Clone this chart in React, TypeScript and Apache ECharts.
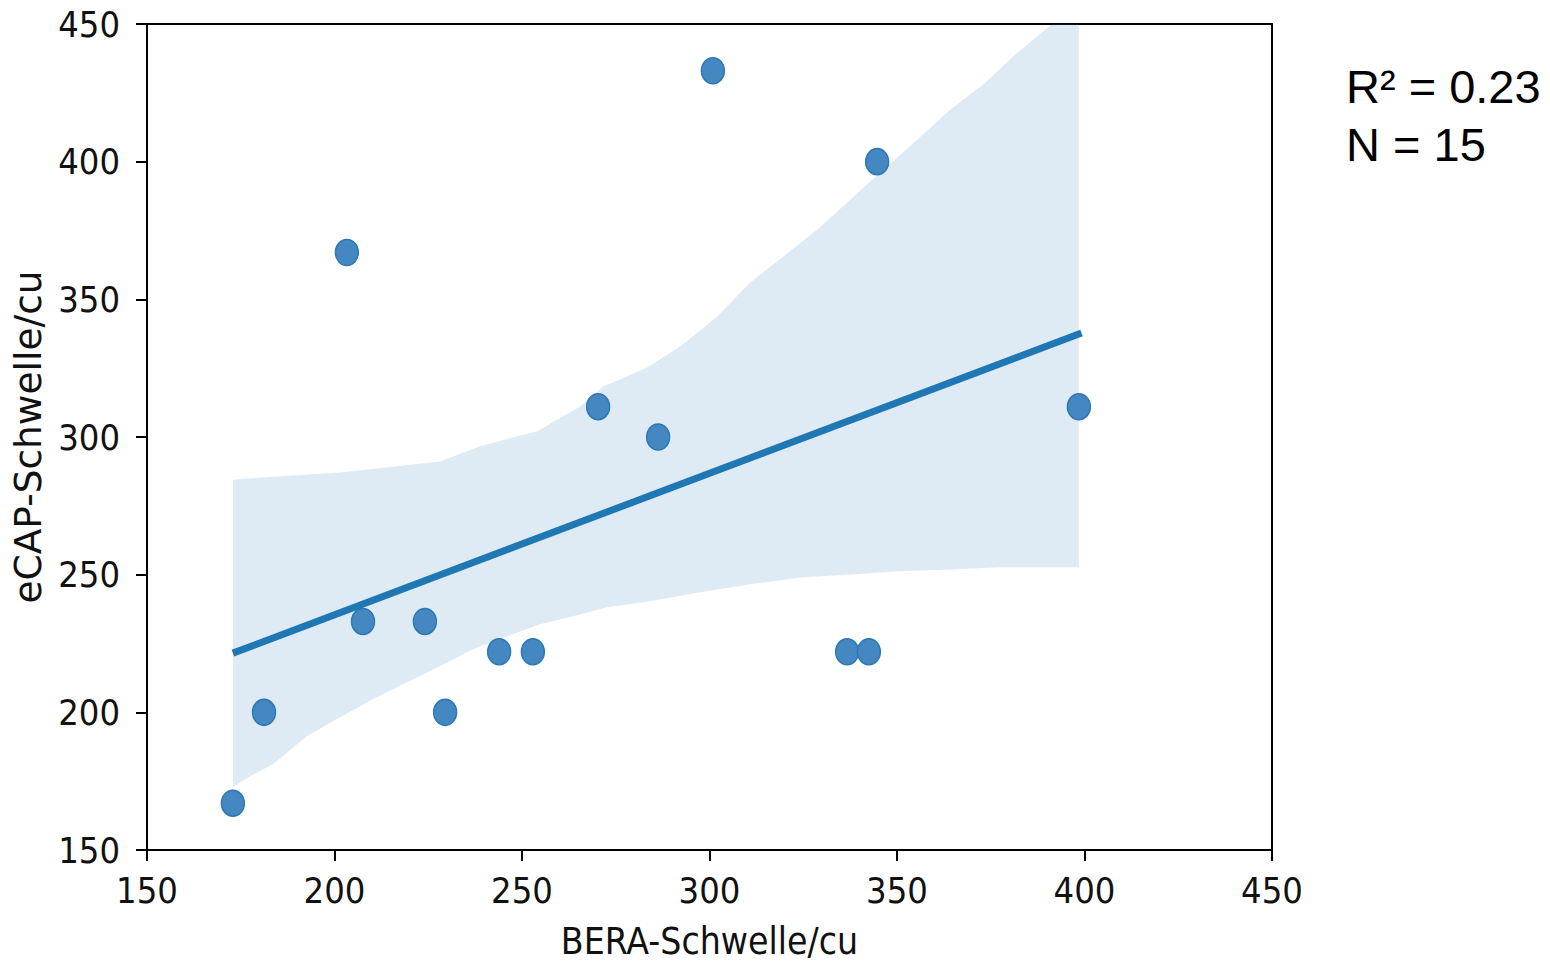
import React, { useEffect, useRef } from "react";
import * as echarts from "echarts";

// Scatter data (BERA threshold vs eCAP threshold)
const beraValues = [172.9, 181.2, 203.3, 207.6, 224.1, 229.5, 243.9, 252.9, 270.3, 286.3, 300.9, 336.7, 342.5, 344.7, 398.5];
const ecapValues = [167, 200, 367, 233, 233, 200, 222, 222, 311, 300, 433, 222, 222, 400, 311];

// Regression line end points
const fitX = [172.9, 399.2];
const fitY = [221.5, 337.8];

// Confidence band, upper edge
const ciUpperX = [172.9, 201.5, 228.1, 238.8, 247.6, 254.0, 259.3, 265.5, 271.6, 276.1, 283.3, 292.1, 302.0, 310.8, 319.6, 328.7, 337.5, 346.3, 355.3, 364.1, 372.9, 382.0, 390.0, 398.5];
const ciUpperY = [284.6, 287.1, 291.1, 296.6, 299.8, 302.0, 306.3, 311.1, 318.3, 320.9, 325.2, 332.8, 343.7, 356.0, 365.5, 375.3, 386.2, 397.0, 407.9, 418.8, 427.9, 439.5, 448.5, 458.0];
// Confidence band, lower edge
const ciLowerX = [172.9, 177.5, 183.6, 192.7, 201.5, 210.3, 219.3, 228.1, 236.9, 246.0, 254.8, 263.6, 272.7, 284.1, 297.5, 310.8, 324.1, 337.5, 350.8, 364.1, 377.5, 398.5];
const ciLowerY = [172.9, 176.8, 181.2, 191.4, 198.2, 204.8, 210.9, 216.7, 222.9, 227.6, 232.0, 234.9, 238.2, 240.3, 243.6, 246.5, 249.0, 250.1, 251.2, 251.9, 252.7, 252.7];

// Axes
const xAxisName = "BERA-Schwelle/cu";
const yAxisName = "eCAP-Schwelle/cu";
const axisMin = 150;
const axisMax = 450;
const axisStep = 50;

// Annotation
const statLines = ["R² = 0.23", "N = 15"];

const tickFont = '"DejaVu Sans Condensed", "DejaVu Sans", sans-serif';

export default function App() {
  const ref = useRef<HTMLDivElement>(null);

  useEffect(() => {
    if (!ref.current) return;
    const chart = echarts.init(ref.current, null, { renderer: "svg" });

    const axisCommon = {
      type: "value" as const,
      min: axisMin,
      max: axisMax,
      interval: axisStep,
      splitLine: { show: false },
      axisLine: { show: true, onZero: false, lineStyle: { color: "#000", width: 2 } },
      axisTick: { show: true, inside: false, length: 11, lineStyle: { color: "#000", width: 2 } },
    };

    chart.setOption({
      animation: false,
      backgroundColor: "#fff",
      grid: {
        left: 147,
        top: 24,
        right: 278,
        bottom: 114,
        show: true,
        borderColor: "#000",
        borderWidth: 2,
        backgroundColor: "transparent",
      },
      xAxis: {
        ...axisCommon,
        name: xAxisName,
        nameLocation: "middle",
        nameGap: 73,
        nameTextStyle: { fontFamily: tickFont, fontSize: 37, color: "#111" },
        axisLabel: { margin: 22, fontFamily: tickFont, fontSize: 36, color: "#111" },
      },
      yAxis: {
        ...axisCommon,
        name: yAxisName,
        nameLocation: "middle",
        nameGap: 93,
        nameTextStyle: { fontFamily: '"DejaVu Sans", sans-serif', fontSize: 37.5, color: "#111" },
        axisLabel: { margin: 27, fontFamily: tickFont, fontSize: 36, color: "#111" },
      },
      series: [
        {
          type: "custom",
          clip: true,
          silent: true,
          z: 1,
          data: [[ciUpperX[0], ciUpperY[0]]],
          renderItem: (_params: any, api: any) => {
            const pts: number[][] = [];
            for (let i = 0; i < ciUpperX.length; i++) pts.push(api.coord([ciUpperX[i], ciUpperY[i]]));
            for (let i = ciLowerX.length - 1; i >= 0; i--) pts.push(api.coord([ciLowerX[i], ciLowerY[i]]));
            return {
              type: "polygon",
              shape: { points: pts },
              style: { fill: "rgba(31,119,180,0.15)", stroke: "none" },
            };
          },
        },
        {
          type: "scatter",
          z: 2,
          symbol: "path://M0,-1A1,1,0,1,1,0,1A1,1,0,1,1,0,-1Z",
          symbolSize: [23, 26],
          itemStyle: { color: "#4587c1", borderColor: "#2b78b6", borderWidth: 1.5, opacity: 1 },
          data: beraValues.map((x, i) => [x, ecapValues[i]]),
        },
        {
          type: "line",
          z: 3,
          symbol: "none",
          lineStyle: { color: "#1f77b4", width: 7, cap: "butt" },
          data: fitX.map((x, i) => [x, fitY[i]]),
        },
      ],
      graphic: statLines.map((t, i) => ({
        type: "text",
        x: 1346,
        y: 86 + i * 58,
        style: {
          text: t,
          fontFamily: '"Liberation Sans", Arial, sans-serif',
          fontSize: 47,
          fill: "#000",
          align: "left",
          verticalAlign: "middle",
        },
      })),
    });

    return () => chart.dispose();
  }, []);

  return (
    <div
      ref={ref}
      style={{ position: "fixed", left: 0, top: 0, width: 1550, height: 965, background: "#fff" }}
    />
  );
}
